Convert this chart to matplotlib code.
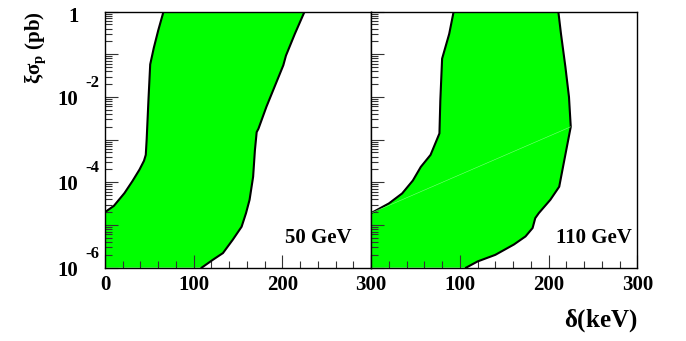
import matplotlib.pyplot as plt
import numpy as np
from matplotlib.ticker import LogLocator, NullFormatter, MultipleLocator
from matplotlib.transforms import offset_copy

plt.rcParams['font.family'] = 'Liberation Serif'
plt.rcParams['font.weight'] = 'bold'
plt.rcParams['mathtext.fontset'] = 'custom'
plt.rcParams['mathtext.rm'] = 'Liberation Serif'
plt.rcParams['mathtext.bf'] = 'Liberation Serif:bold'
plt.rcParams['mathtext.it'] = 'Liberation Serif:italic'

# allowed region boundaries (delta in keV, xi*sigma_p in pb)
# 50 GeV, lower-delta edge
lo50_delta = [0, 10, 22, 31, 39, 44, 46, 47, 49, 51, 55, 60, 66]
lo50_sigma = [2.0e-5, 2.8e-5, 5.6e-5, 1.07e-4, 2.0e-4, 3.2e-4, 4.4e-4, 1.0e-3,
              8.3e-3, 0.058, 0.14, 0.36, 1.0]
# 50 GeV, upper-delta edge
hi50_delta = [109, 122, 133, 144, 154, 159, 163, 167, 169, 171, 173, 182, 191,
              201, 204, 214, 225]
hi50_sigma = [1.0e-6, 1.55e-6, 2.2e-6, 4.5e-6, 9.1e-6, 1.9e-5, 3.9e-5, 1.35e-4,
              5.6e-4, 1.5e-3, 1.8e-3, 5.9e-3, 0.017, 0.055, 0.093, 0.30, 1.0]

# 110 GeV, lower-delta edge
lo110_delta = [0, 20, 35, 47, 56, 67, 77, 78, 80, 88, 93]
lo110_sigma = [1.9e-5, 3.2e-5, 5.5e-5, 1.1e-4, 2.3e-4, 4.4e-4, 1.4e-3, 8.3e-3,
               0.079, 0.30, 1.0]
# 110 GeV, upper-delta edge
hi110_delta = [107, 120, 140, 161, 174, 182, 185, 189, 202, 212, 217, 225, 223,
               219, 214, 211]
hi110_sigma = [1.0e-6, 1.4e-6, 2.0e-6, 3.5e-6, 5.4e-6, 8.5e-6, 1.45e-5, 1.9e-5,
               3.9e-5, 7.9e-5, 2.75e-4, 2.0e-3, 0.01, 0.05, 0.30, 1.0]

masses = ["50 GeV", "110 GeV"]
ymin, ymax = 1e-6, 1.0

ylab_vals = [1.0, 1e-2, 1e-4, 1e-6]
ylab_exp = ["", "-2", "-4", "-6"]

fig, axes = plt.subplots(1, 2, figsize=(6.86, 3.41), dpi=100, sharey=True)
fig.subplots_adjust(left=0.153, right=0.929, bottom=0.215, top=0.966, wspace=0)

panels = [(lo50_delta, lo50_sigma, hi50_delta, hi50_sigma),
          (lo110_delta, lo110_sigma, hi110_delta, hi110_sigma)]

for i, ax in enumerate(axes):
    lo_d, lo_s, hi_d, hi_s = panels[i]
    xs = [lo_d[0]] + lo_d + hi_d[::-1]
    ys = [ymin] + lo_s + hi_s[::-1]
    ax.fill(xs, ys, color='#00ff00', lw=0)
    ax.plot(lo_d, lo_s, color='black', lw=1.5)
    ax.plot(hi_d, hi_s, color='black', lw=1.5)

    ax.set_yscale('log')
    ax.set_xlim(0, 300)
    ax.set_ylim(ymin, ymax)
    ax.yaxis.set_major_locator(LogLocator(base=10, numticks=10))
    ax.yaxis.set_minor_locator(LogLocator(base=10, subs=np.arange(2, 10), numticks=10))
    ax.yaxis.set_major_formatter(NullFormatter())
    ax.yaxis.set_minor_formatter(NullFormatter())
    ax.xaxis.set_major_locator(MultipleLocator(100))
    ax.xaxis.set_minor_locator(MultipleLocator(20))
    ax.tick_params(which='both', direction='in', top=False, right=False,
                   color='#333333', width=0.8)
    ax.tick_params(which='major', length=9.5, labelsize=15, pad=5.5)
    ax.tick_params(which='minor', length=5)
    for s in ax.spines.values():
        s.set_linewidth(1.0)
        s.set_zorder(5)

    ax.text(0.926 if i == 0 else 0.98, 0.0965, masses[i], transform=ax.transAxes,
            ha='right', va='baseline', fontsize=15, fontweight='bold')

axes[0].set_xticks([0, 100, 200, 300])
axes[0].set_xticklabels(['0', '100', '200', '300'])
axes[1].set_xticks([0, 100, 200, 300])
axes[1].set_xticklabels(['', '100', '200', '300'])

# faint seam inside the 110 GeV band
k = int(np.argmax(hi110_delta))
axes[1].plot([lo110_delta[0], hi110_delta[k]], [lo110_sigma[0], hi110_sigma[k]],
             color='#7dff7d', lw=0.4)

# y tick labels, ROOT style
ax = axes[0]
ytr = ax.get_yaxis_transform()
for v, e in zip(ylab_vals, ylab_exp):
    if e == "":
        ax.text(0, v, "1", transform=offset_copy(ytr, fig, x=-26, y=-10, units='dots'),
                ha='right', va='baseline', fontsize=15, fontweight='bold')
    else:
        ax.text(0, v, "10", transform=offset_copy(ytr, fig, x=-27, y=-8, units='dots'),
                ha='right', va='baseline', fontsize=15, fontweight='bold')
        ax.text(0, v, e, transform=offset_copy(ytr, fig, x=-20, y=10, units='dots'),
                ha='left', va='baseline', fontsize=12, fontweight='bold')

axes[0].set_ylabel(r"$\mathrm{\xi\sigma}_{\mathbf{p}}$ (pb)", fontsize=15,
                   fontweight='bold', loc='top')
axes[0].yaxis.set_label_coords(-0.215, 1.0)

axes[1].set_xlabel(r"$\mathrm{\delta}$(keV)", fontsize=18, fontweight='bold', loc='right')
axes[1].xaxis.set_label_coords(1.0, -0.155)

fig.savefig("out.png", dpi=100)
